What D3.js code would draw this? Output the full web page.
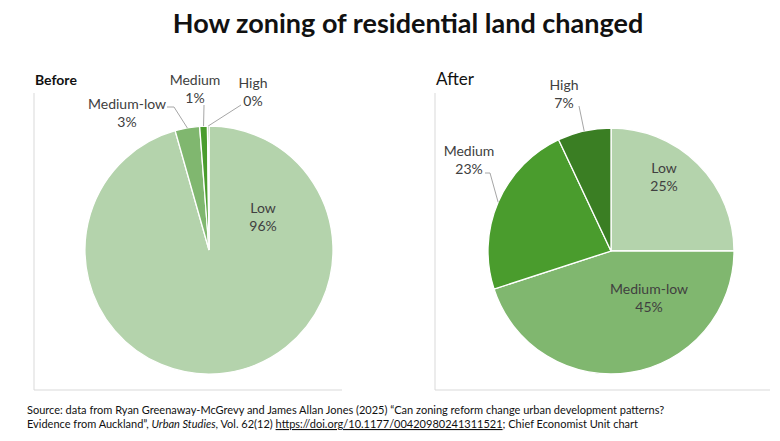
<!DOCTYPE html>
<html>
<head>
<meta charset="utf-8">
<script src="https://cdn.jsdelivr.net/npm/d3@7"></script>
<style>
  body { margin: 0; background: #fff; }
  svg { display: block; font-family: Lato, "Open Sans", sans-serif; }
</style>
</head>
<body>
<div id="chart"></div>
<script>
const categories = ["Low", "Medium-low", "Medium", "High"];
const beforeValues = [95.6, 3.2, 1.0, 0.2];
const afterValues = [25, 45, 23, 7];
const sliceColors = ["#b4d3ac", "#80b76f", "#4a9c2d", "#3a7e23"];

// label layout: offset of label centre from pie centre, and whether it sits outside with a leader
const beforeLabels = [
    { dx: 54, dy: -33, outside: false },
    { dx: -82, dy: -137, outside: true, lead: [[-42, -143], [-35, -143]] },
    { dx: -14, dy: -161, outside: true, lead: [[-5, -145]] },
    { dx: 44, dy: -158, outside: true, lead: [[32, -145]] }
];
const afterLabels = [
    { dx: 53, dy: -74, outside: false },
    { dx: 38, dy: 47, outside: false },
    { dx: -142, dy: -91, outside: true, lead: [[-126, -78], [-121, -78]] },
    { dx: -47, dy: -157, outside: true, lead: [[-32, -145]] }
];

const width = 780, height = 441;

const svg = d3.select("#chart").append("svg")
    .attr("width", width)
    .attr("height", height);

svg.append("text")
    .attr("x", 408)
    .attr("y", 33)
    .attr("text-anchor", "middle")
    .style("font-size", "27px")
    .style("font-weight", "bold")
    .style("fill", "#111")
    .text("How zoning of residential land changed");

const color = d3.scaleOrdinal().domain(categories).range(sliceColors);

function drawPanel(opts) {
    const g = svg.append("g");

    // frame
    g.append("path")
        .attr("d", `M${opts.left},93V${opts.bottom}H${opts.right}`)
        .attr("fill", "none")
        .attr("stroke", "#d9d9d9")
        .attr("stroke-width", 1);

    g.append("text")
        .attr("x", opts.left + 1)
        .attr("y", 85)
        .style("font-size", opts.titleSize)
        .style("font-weight", opts.titleWeight)
        .style("fill", "#111")
        .text(opts.title);

    const data = categories.map((c, i) => ({ name: c, value: opts.values[i] }));
    const total = d3.sum(data, d => d.value);
    const arcs = d3.pie().sort(null).value(d => d.value)(data);
    const arc = d3.arc().innerRadius(0).outerRadius(opts.r);

    const pie = g.append("g")
        .attr("transform", `translate(${opts.cx},${opts.cy})`);

    pie.selectAll("path.slice")
        .data(arcs)
        .enter().append("path")
        .attr("class", "slice")
        .attr("d", arc)
        .attr("fill", d => color(d.data.name))
        .attr("stroke", "#fff")
        .attr("stroke-width", 1.3);

    arcs.forEach((a, i) => {
        const lab = opts.labels[i];
        if (lab.outside) {
            const mid = (a.startAngle + a.endAngle) / 2;
            const edge = [Math.sin(mid) * opts.r, -Math.cos(mid) * opts.r];
            const pts = lab.lead.concat([edge]);
            pie.append("path")
                .attr("d", d3.line()(pts))
                .attr("fill", "none")
                .attr("stroke", "#a6a6a6")
                .attr("stroke-width", 1);
        }
        const t = pie.append("text")
            .attr("x", lab.dx)
            .attr("y", lab.dy - 4)
            .attr("text-anchor", "middle")
            .style("font-size", "14px")
            .style("fill", "#404040");
        t.append("tspan").attr("x", lab.dx).text(a.data.name);
        t.append("tspan").attr("x", lab.dx).attr("dy", 18)
            .text(Math.round(a.data.value / total * 100) + "%");
    });
}

drawPanel({
    title: "Before", titleSize: "14px", titleWeight: "bold",
    left: 34, right: 342, bottom: 390,
    cx: 209, cy: 250, r: 124,
    values: beforeValues, labels: beforeLabels
});

drawPanel({
    title: "After", titleSize: "17px", titleWeight: "normal",
    left: 435, right: 770, bottom: 390,
    cx: 611, cy: 251, r: 123,
    values: afterValues, labels: afterLabels
});

const source = svg.append("text")
    .attr("x", 27)
    .attr("y", 414)
    .style("font-size", "11px")
    .style("fill", "#111");
source.append("tspan")
    .text("Source: data from Ryan Greenaway-McGrevy and James Allan Jones (2025) \u201cCan zoning reform change urban development patterns?");
const line2 = svg.append("text")
    .attr("x", 27)
    .attr("y", 428)
    .style("font-size", "11px")
    .style("fill", "#111");
line2.append("tspan").text("Evidence from Auckland\u201d, ");
line2.append("tspan").style("font-style", "italic").text("Urban Studies");
line2.append("tspan").text(", Vol. 62(12) ");
line2.append("tspan").style("text-decoration", "underline").text("https://doi.org/10.1177/00420980241311521");
line2.append("tspan").text("; Chief Economist Unit chart");
</script>
</body>
</html>
